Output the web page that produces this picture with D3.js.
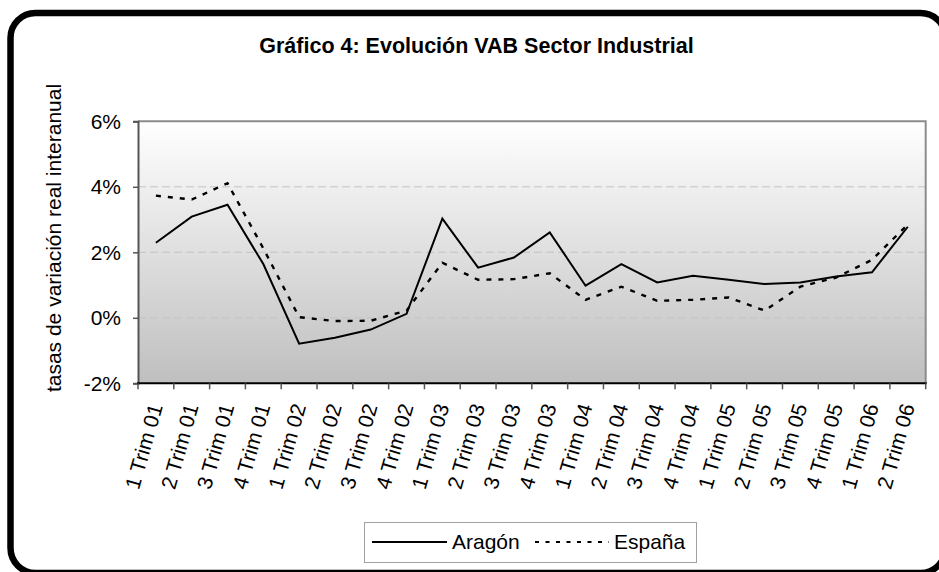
<!DOCTYPE html>
<html>
<head>
<meta charset="utf-8">
<script src="https://d3js.org/d3.v7.min.js"></script>
<style>
  body { margin: 0; background: #fff; }
  text { font-family: "Liberation Sans", Arial, sans-serif; fill: #000; }
</style>
</head>
<body>
<div id="chart"></div>
<script>

// data (% real year on year change)
var quarters = ["1 Trim 01", "2 Trim 01", "3 Trim 01", "4 Trim 01",
                "1 Trim 02", "2 Trim 02", "3 Trim 02", "4 Trim 02",
                "1 Trim 03", "2 Trim 03", "3 Trim 03", "4 Trim 03",
                "1 Trim 04", "2 Trim 04", "3 Trim 04", "4 Trim 04",
                "1 Trim 05", "2 Trim 05", "3 Trim 05", "4 Trim 05",
                "1 Trim 06", "2 Trim 06"];
var aragon = [2.29, 3.09, 3.45, 1.64, -0.79, -0.61, -0.36, 0.12, 3.03, 1.53, 1.84,
              2.61, 0.98, 1.64, 1.08, 1.28, 1.16, 1.03, 1.08, 1.26, 1.39, 2.78];
var espana = [3.73, 3.61, 4.11, 2.12, 0.02, -0.10, -0.09, 0.22, 1.68, 1.16, 1.18,
              1.36, 0.55, 0.95, 0.52, 0.55, 0.62, 0.22, 0.95, 1.23, 1.77, 2.85];
var yTicks = [-2, 0, 2, 4, 6];
var seriesNames = ["Aragón", "España"];

var W = 939, H = 572;
var plot = {left: 138, top: 121.3, right: 925.7, bottom: 383.3};

var svg = d3.select("#chart")
  .append("svg")
    .attr("width", W)
    .attr("height", H);

// gradient for the plot area
var grad = svg.append("defs").append("linearGradient")
    .attr("id", "bg")
    .attr("x1", 0).attr("y1", 0).attr("x2", 0).attr("y2", 1);
grad.append("stop").attr("offset", "0%").attr("stop-color", "#ffffff");
grad.append("stop").attr("offset", "100%").attr("stop-color", "#bfbfbf");

// outer rounded frame
svg.append("rect")
  .attr("x", 10.5).attr("y", 13)
  .attr("width", 935).attr("height", 560)
  .attr("rx", 25).attr("ry", 25)
  .attr("fill", "#fff")
  .attr("stroke", "#000")
  .attr("stroke-width", 6.5);

// scales
var x = d3.scaleBand()
  .domain(quarters)
  .range([plot.left, plot.right])
  .paddingInner(0).paddingOuter(0);

var y = d3.scaleLinear()
  .domain([-2, 6])
  .range([plot.bottom, plot.top]);

// plot background
svg.append("rect")
  .attr("x", plot.left).attr("y", plot.top)
  .attr("width", plot.right - plot.left)
  .attr("height", plot.bottom - plot.top)
  .attr("fill", "url(#bg)");

// dashed gridlines
svg.selectAll("grid")
  .data(yTicks.filter(function(d){ return d > -2 && d < 6; }))
  .enter()
  .append("line")
    .attr("x1", plot.left).attr("x2", plot.right)
    .attr("y1", function(d){ return y(d); })
    .attr("y2", function(d){ return y(d); })
    .attr("stroke", "#c4c4c4")
    .attr("stroke-width", 1)
    .attr("stroke-dasharray", "8,4");

// top and right border of the plot
svg.append("path")
  .attr("d", "M" + plot.left + "," + plot.top + "H" + plot.right + "V" + plot.bottom)
  .attr("fill", "none")
  .attr("stroke", "#8c8c8c")
  .attr("stroke-width", 2);

// Y axis
var yAxis = svg.append("g")
  .attr("transform", "translate(" + plot.left + ",0)")
  .call(d3.axisLeft(y).tickValues(yTicks).tickSize(5).tickPadding(12)
        .tickFormat(function(d){ return d + "%"; }));
yAxis.select(".domain").attr("stroke", "#555").attr("stroke-width", 2);
yAxis.selectAll(".tick line").attr("stroke", "#555").attr("stroke-width", 1.5);
yAxis.selectAll("text")
  .style("font-size", "21px")
  .attr("fill", "#000");

// X axis: ticks between categories
var xAxis = svg.append("g")
  .attr("transform", "translate(0," + plot.bottom + ")");
xAxis.append("line")
  .attr("x1", plot.left - 1).attr("x2", plot.right + 1)
  .attr("stroke", "#000").attr("stroke-width", 2);
var edges = quarters.map(function(q){ return x(q); }).concat([plot.right]);
xAxis.selectAll("xTicks")
  .data(edges)
  .enter()
  .append("line")
    .attr("x1", function(d){ return d; }).attr("x2", function(d){ return d; })
    .attr("y1", 0).attr("y2", 6)
    .attr("stroke", "#555").attr("stroke-width", 1.5);
xAxis.selectAll("xLabels")
  .data(quarters)
  .enter()
  .append("text")
    .attr("transform", function(d){
      return "translate(" + (x(d) + x.bandwidth() / 2) + ",21) rotate(-74)";
    })
    .attr("dy", "0.35em")
    .attr("text-anchor", "end")
    .style("font-size", "21px")
    .text(function(d){ return d; });

// Y axis title
svg.append("text")
  .attr("transform", "translate(61,238) rotate(-90)")
  .attr("text-anchor", "middle")
  .style("font-size", "21px")
  .text("tasas de variación real interanual");

// chart title
svg.append("text")
  .attr("x", 476.5).attr("y", 53)
  .attr("text-anchor", "middle")
  .style("font-size", "21.5px")
  .style("font-weight", "bold")
  .text("Gráfico 4: Evolución VAB Sector Industrial");

// the lines
var line = d3.line()
  .x(function(d, i){ return x(quarters[i]) + x.bandwidth() / 2; })
  .y(function(d){ return y(d); });

svg.append("path")
  .datum(aragon)
  .attr("d", line)
  .attr("fill", "none")
  .attr("stroke", "#000")
  .attr("stroke-width", 2);

svg.append("path")
  .datum(espana)
  .attr("d", line)
  .attr("fill", "none")
  .attr("stroke", "#000")
  .attr("stroke-width", 2.4)
  .attr("stroke-dasharray", "5,7");

// legend
var legend = svg.append("g");
legend.append("rect")
  .attr("x", 364.5).attr("y", 522.5)
  .attr("width", 332).attr("height", 40)
  .attr("fill", "#fff")
  .attr("stroke", "#a0a0a0")
  .attr("stroke-width", 1);
var legendItems = [
  {name: seriesNames[0], x0: 372, x1: 447, dash: null},
  {name: seriesNames[1], x0: 535, x1: 609, dash: "4,6.5"}
];
legendItems.forEach(function(d){
  legend.append("line")
    .attr("x1", d.x0).attr("x2", d.x1)
    .attr("y1", 542).attr("y2", 542)
    .attr("stroke", "#000")
    .attr("stroke-width", d.dash ? 1.8 : 2)
    .attr("stroke-dasharray", d.dash);
  legend.append("text")
    .attr("x", d.x1 + 5).attr("y", 542)
    .attr("dy", "0.35em")
    .style("font-size", "21px")
    .text(d.name);
});

</script>
</body>
</html>
